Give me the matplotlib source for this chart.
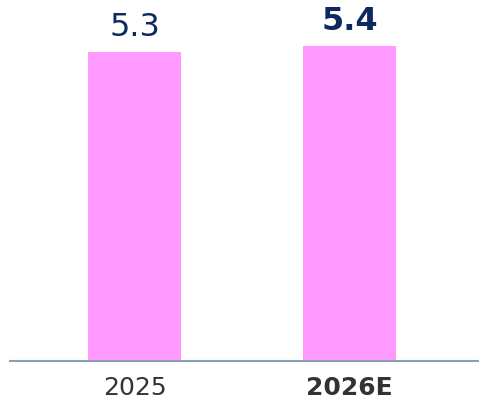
import matplotlib.pyplot as plt

# chart data
years = ["2025", "2026E"]
values = [5.3, 5.4]

bar_color = "#ff99ff"
label_color = "#0c2a5f"

fig = plt.figure(figsize=(4.79, 4.03), dpi=100)
ax = fig.add_axes([10 / 479, 42 / 403, 469 / 479, 361 / 403])

x = range(len(years))
bars = ax.bar(x, values, width=0.433, color=bar_color, zorder=2)

# value labels above bars, last one bold
for i, (b, v) in enumerate(zip(bars, values)):
    bold = i == len(values) - 1
    ax.annotate(f"{v:.1f}", (b.get_x() + b.get_width() / 2, v),
                xytext=(0, 11.5), textcoords="offset points",
                ha="center", va="baseline", fontsize=23,
                color=label_color, fontweight="bold" if bold else "normal")

ax.set_xlim(-0.579, 1.602)
ax.set_ylim(0, 6.19)
ax.set_xticks(list(x))
ax.set_xticklabels(years, fontsize=18, color="#333333")
ax.get_xticklabels()[-1].set_fontweight("bold")
ax.tick_params(axis="x", length=0, pad=11)
ax.set_yticks([])

for s in ["top", "right", "left"]:
    ax.spines[s].set_visible(False)
ax.spines["bottom"].set_color("#8a9eaf")
ax.spines["bottom"].set_linewidth(1.5)

fig.savefig("out.png", dpi=100)
